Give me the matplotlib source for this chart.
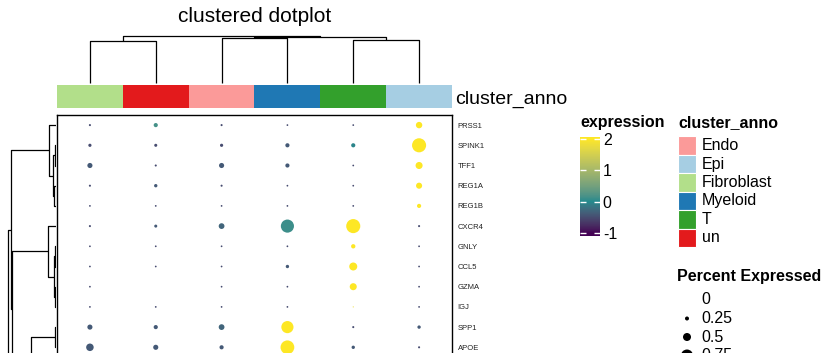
import numpy as np
import matplotlib
matplotlib.use("Agg")
import matplotlib.pyplot as plt
from matplotlib.patches import Rectangle
from matplotlib.colors import Normalize, ListedColormap, to_rgb
from matplotlib.cm import ScalarMappable

plt.rcParams["font.family"] = ["Liberation Sans", "DejaVu Sans"]
plt.rcParams["axes.unicode_minus"] = False

# Data
clusters = ["Fibroblast", "un", "Endo", "Myeloid", "T", "Epi"]
legend_order = ["Endo", "Epi", "Fibroblast", "Myeloid", "T", "un"]
cluster_colors = {
    "Endo": "#FB9A99",
    "Epi": "#A6CEE3",
    "Fibroblast": "#B2DF8A",
    "Myeloid": "#1F78B4",
    "T": "#33A02C",
    "un": "#E31A1C",
}
genes = ["PRSS1", "SPINK1", "TFF1", "REG1A", "REG1B", "CXCR4",
         "GNLY", "CCL5", "GZMA", "IGJ", "SPP1", "APOE"]

# scaled expression (rows = genes, cols = clusters)
expression = [
    [-0.5, 0.15, -0.5, -0.5, -0.5, 2.0],
    [-0.5, -0.5, -0.5, -0.4, -0.05, 2.0],
    [-0.4, -0.5, -0.4, -0.4, -0.5, 2.0],
    [-0.5, -0.4, -0.5, -0.5, -0.5, 2.0],
    [-0.5, -0.5, -0.5, -0.5, -0.5, 2.0],
    [-0.5, -0.4, -0.3, 0.1, 2.0, -0.5],
    [-0.5, -0.5, -0.5, -0.5, 2.0, -0.5],
    [-0.5, -0.5, -0.5, -0.4, 2.0, -0.5],
    [-0.5, -0.5, -0.5, -0.5, 2.0, -0.5],
    [-0.5, -0.5, -0.5, -0.5, 1.8, -0.5],
    [-0.4, -0.4, -0.3, 2.0, -0.5, -0.4],
    [-0.4, -0.4, -0.4, 2.0, -0.4, -0.5],
]
# fraction of cells expressing
pct = [
    [0.13, 0.26, 0.13, 0.11, 0.11, 0.40],
    [0.20, 0.19, 0.20, 0.26, 0.26, 0.88],
    [0.32, 0.13, 0.32, 0.26, 0.11, 0.44],
    [0.13, 0.21, 0.13, 0.11, 0.11, 0.38],
    [0.11, 0.11, 0.11, 0.11, 0.11, 0.26],
    [0.13, 0.19, 0.36, 0.82, 0.88, 0.13],
    [0.11, 0.11, 0.11, 0.11, 0.27, 0.11],
    [0.11, 0.11, 0.11, 0.21, 0.50, 0.11],
    [0.11, 0.00, 0.11, 0.11, 0.44, 0.11],
    [0.11, 0.11, 0.11, 0.11, 0.07, 0.11],
    [0.32, 0.26, 0.36, 0.76, 0.13, 0.21],
    [0.47, 0.32, 0.26, 0.86, 0.21, 0.13],
]
size_breaks = [0, 0.25, 0.5, 0.75]

# colour scale breaks (interpolated in LAB like circlize::colorRamp2)
col_breaks = [-1, 0, 2]
col_values = ["#440154", "#238A8D", "#FDE725"]

# dendrograms: (height, left, right); ints are leaf positions
# rows beyond APOE are cut off in the original picture
row_tree = (47.7,
            (45.3,
             (6.7, 0, (2.7, (1.3, 1, 2), (1.5, 3, 4))),
             (43.7,
              (8.3, 5, (2.0, (1.3, 6, 7), (1.0, 8, 9))),
              (25.0, (1.3, 10, 11), (3.0, (1.5, 12, 13), (2.0, 14, 15))))),
            (30.0, (2.0, 16, 17), (2.0, 18, 19)))
col_tree = (47.0, (41.7, 0, 1), (45.7, (44.7, 2, 3), (42.7, 4, 5)))

W, H = 828, 353
DPI = 100
n_rows_total = 20
row_h = 20.2

WHITE = np.array([0.95047, 1.0, 1.08883])
M = np.array([[0.4124, 0.3576, 0.1805],
              [0.2126, 0.7152, 0.0722],
              [0.0193, 0.1192, 0.9505]])


def rgb_to_lab(rgb):
    rgb = np.asarray(rgb, dtype=float)
    lin = np.where(rgb <= 0.04045, rgb / 12.92, ((rgb + 0.055) / 1.055) ** 2.4)
    xyz = lin @ M.T / WHITE
    d = 6 / 29
    f = np.where(xyz > d ** 3, np.cbrt(xyz), xyz / (3 * d ** 2) + 4 / 29)
    return np.stack([116 * f[..., 1] - 16,
                     500 * (f[..., 0] - f[..., 1]),
                     200 * (f[..., 1] - f[..., 2])], axis=-1)


def lab_to_rgb(lab):
    d = 6 / 29
    fy = (lab[..., 0] + 16) / 116
    f = np.stack([fy + lab[..., 1] / 500, fy, fy - lab[..., 2] / 200], axis=-1)
    xyz = np.where(f > d, f ** 3, 3 * d ** 2 * (f - 4 / 29)) * WHITE
    lin = xyz @ np.linalg.inv(M).T
    lin = np.clip(lin, 0, None)
    rgb = np.where(lin <= 0.0031308, 12.92 * lin, 1.055 * lin ** (1 / 2.4) - 0.055)
    return np.clip(rgb, 0, 1)


vmin, vmax = -1.1, 2.06
labs = rgb_to_lab([to_rgb(c) for c in col_values])
vals = np.clip(np.linspace(vmin, vmax, 256), col_breaks[0], col_breaks[-1])
lab_samples = np.stack([np.interp(vals, col_breaks, labs[:, k]) for k in range(3)], axis=-1)
cmap = ListedColormap(lab_to_rgb(lab_samples))
norm = Normalize(vmin=vmin, vmax=vmax)


def px_rect(x0, y0, w, h):
    return [x0 / W, 1 - (y0 + h) / H, w / W, h / H]


def dot_size(p):
    return (16 * p * 72 / DPI) ** 2


def draw_tree(ax, node, horizontal):
    if isinstance(node, int):
        return node, 0.0
    h, left, right = node
    p1, h1 = draw_tree(ax, left, horizontal)
    p2, h2 = draw_tree(ax, right, horizontal)
    pos = [p1, p1, p2, p2]
    hts = [h1, h, h, h2]
    if horizontal:
        ax.plot(hts, pos, color="black", lw=0.9, solid_capstyle="butt")
    else:
        ax.plot(pos, hts, color="black", lw=0.9, solid_capstyle="butt")
    return (p1 + p2) / 2, h


fig = plt.figure(figsize=(W / DPI, H / DPI), dpi=DPI)

# main dot panel
ax = fig.add_axes(px_rect(57, 115, 395, n_rows_total * row_h))
for i, g in enumerate(genes):
    for j, c in enumerate(clusters):
        if pct[i][j] > 0:
            ax.scatter(j, i, s=dot_size(pct[i][j]), color=cmap(norm(expression[i][j])),
                       edgecolors="none", zorder=3)
ax.set_xlim(-0.5, len(clusters) - 0.5)
ax.set_ylim(n_rows_total - 0.5, -0.5)
ax.set_xticks([])
ax.yaxis.tick_right()
ax.set_yticks(range(len(genes)))
ax.set_yticklabels(genes, fontsize=5.5, color="#222222")
ax.tick_params(axis="y", length=0, pad=4)
for s in ax.spines.values():
    s.set_linewidth(1.0)

# row dendrogram
ax_rd = fig.add_axes(px_rect(0, 115, 56, n_rows_total * row_h))
draw_tree(ax_rd, row_tree, horizontal=True)
ax_rd.set_xlim(56, 0)
ax_rd.set_ylim(n_rows_total - 0.5, -0.5)
ax_rd.axis("off")

# column dendrogram
ax_cd = fig.add_axes(px_rect(57, 31, 395, 54))
draw_tree(ax_cd, col_tree, horizontal=False)
ax_cd.set_xlim(-0.5, len(clusters) - 0.5)
ax_cd.set_ylim(-2, 52)
ax_cd.axis("off")

# annotation bar
ax_an = fig.add_axes(px_rect(57, 85, 395, 23))
ax_an.bar(range(len(clusters)), 1, width=1, color=[cluster_colors[c] for c in clusters])
ax_an.set_xlim(-0.5, len(clusters) - 0.5)
ax_an.set_ylim(0, 1)
ax_an.axis("off")

# colorbar
cax = fig.add_axes(px_rect(580, 137, 20, 99))
cb = fig.colorbar(ScalarMappable(norm=norm, cmap=cmap), cax=cax)
cb.outline.set_visible(False)
cb.set_ticks([-1, 0, 1, 2])
cax.tick_params(direction="in", color="white", length=4, width=1,
                left=True, right=True, labelsize=11.5, pad=2)

# overlay in pixel units for titles and legends
ax_o = fig.add_axes([0, 0, 1, 1])
ax_o.set_xlim(0, W)
ax_o.set_ylim(H, 0)
ax_o.axis("off")

ax_o.text(254.5, 17, "clustered dotplot", fontsize=15, ha="center", va="center")
ax_o.text(455, 99, "cluster_anno", fontsize=14, ha="left", va="center")

ax_o.text(580, 123, "expression", fontsize=11.5, fontweight="bold", ha="left", va="center")
ax_o.text(678, 123, "cluster_anno", fontsize=11.5, fontweight="bold", ha="left", va="center")
for k, name in enumerate(legend_order):
    y0 = 136 + k * 18.5
    ax_o.add_patch(Rectangle((678, y0), 18, 18.5, facecolor=cluster_colors[name],
                             edgecolor="white", lw=0.8))
    ax_o.text(702, y0 + 9.5, name, fontsize=11.5, ha="left", va="center")

ax_o.text(677, 276, "Percent Expressed", fontsize=11.5, fontweight="bold",
          ha="left", va="center")
for k, b in enumerate(size_breaks):
    y = 300 + k * 18.5
    if b > 0:
        ax_o.scatter(687, y, s=dot_size(b), color="black", edgecolors="none")
    ax_o.text(701, y, f"{b:g}", fontsize=11.5, ha="left", va="center")

fig.savefig("out.png", dpi=DPI)
